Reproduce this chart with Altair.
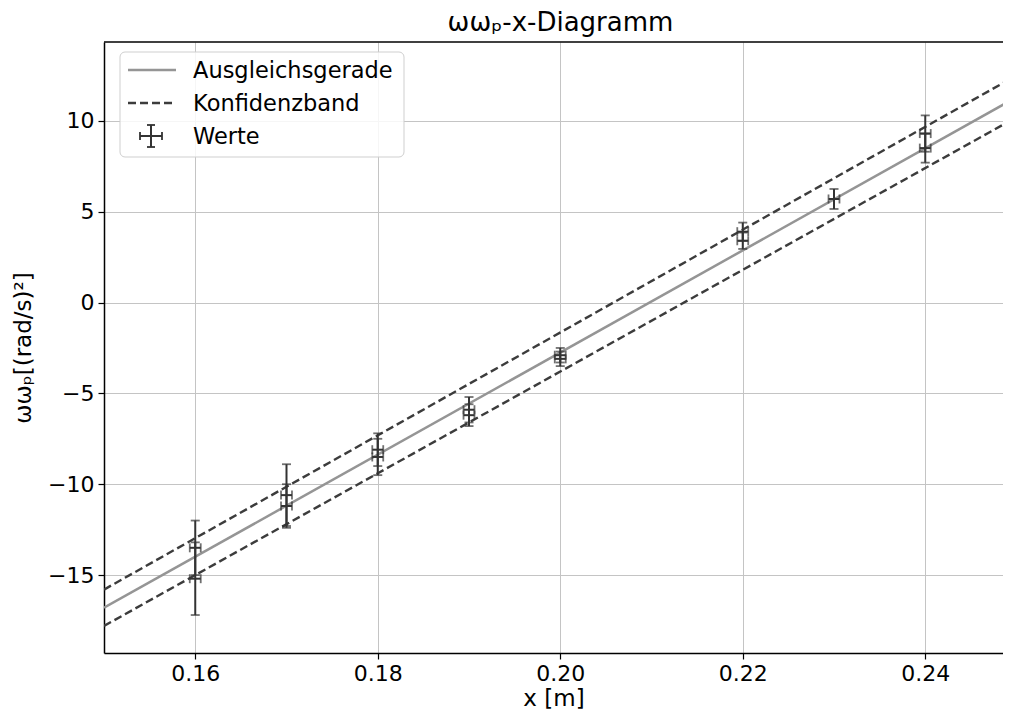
import altair as alt
import pandas as pd

# ---- data ----
pts_x = [0.16, 0.16, 0.17, 0.17, 0.18, 0.18, 0.19, 0.19, 0.20, 0.20, 0.22, 0.22, 0.23, 0.24, 0.24]
pts_y = [-13.5, -15.2, -10.6, -11.2, -8.1, -8.5, -5.9, -6.2, -2.9, -3.1, 3.9, 3.4, 5.7, 9.3, 8.5]
pts_yerr = [1.5, 2.0, 1.7, 1.2, 0.9, 1.0, 0.7, 0.6, 0.4, 0.4, 0.5, 0.45, 0.55, 1.0, 0.8]
pts_xerr = [0.0006, 0.0006, 0.0006, 0.0006, 0.0006, 0.0006, 0.0006, 0.0006,
            0.0006, 0.0006, 0.0006, 0.0006, 0.0006, 0.0006, 0.0006]

line_x = [0.15, 0.25]
fit_y = [-16.8, 11.3]
upper_y = [-15.8, 12.5]
lower_y = [-17.8, 10.2]

x_ticks = [0.16, 0.18, 0.20, 0.22, 0.24]
y_ticks = [-15, -10, -5, 0, 5, 10]

FONT = "DejaVu Sans"
W, H = 899, 611
X_DOM = [0.15, 0.24852]
Y_DOM = [-19.29, 14.34]
ERR = "#333333"

pts = pd.DataFrame({"x": pts_x, "y": pts_y, "yerr": pts_yerr, "xerr": pts_xerr})
pts["ylo"] = pts["y"] - pts["yerr"]
pts["yhi"] = pts["y"] + pts["yerr"]
pts["xlo"] = pts["x"] - pts["xerr"]
pts["xhi"] = pts["x"] + pts["xerr"]

lines = pd.DataFrame({"x": line_x, "fit": fit_y, "up": upper_y, "lo": lower_y})

xs = alt.Scale(domain=X_DOM, nice=False, zero=False)
ys = alt.Scale(domain=Y_DOM, nice=False, zero=False)

x_axis = alt.Axis(values=x_ticks, format=".2f", title="x [m]", grid=True)
y_axis = alt.Axis(values=y_ticks, format="d", title="ωωₚ[(rad/s)²]", grid=True)

base_lines = alt.Chart(lines)

fit = base_lines.mark_line(color="#959595", strokeWidth=2.5, clip=True).encode(
    x=alt.X("x:Q", scale=xs, axis=x_axis),
    y=alt.Y("fit:Q", scale=ys, axis=y_axis),
)
up = base_lines.mark_line(color="#3c3c3c", strokeWidth=2.4, strokeDash=[8, 4], clip=True).encode(
    x=alt.X("x:Q", scale=xs), y=alt.Y("up:Q", scale=ys)
)
lo = base_lines.mark_line(color="#3c3c3c", strokeWidth=2.4, strokeDash=[8, 4], clip=True).encode(
    x=alt.X("x:Q", scale=xs), y=alt.Y("lo:Q", scale=ys)
)

bp = alt.Chart(pts)
ybar = bp.mark_rule(color=ERR, strokeWidth=2).encode(
    x=alt.X("x:Q", scale=xs), y=alt.Y("ylo:Q", scale=ys), y2="yhi:Q"
)
xbar = bp.mark_rule(color=ERR, strokeWidth=2).encode(
    x=alt.X("xlo:Q", scale=xs), x2="xhi:Q", y=alt.Y("y:Q", scale=ys)
)
ycap_lo = bp.mark_tick(color=ERR, orient="horizontal", size=9, thickness=1.8).encode(
    x=alt.X("x:Q", scale=xs), y=alt.Y("ylo:Q", scale=ys)
)
ycap_hi = bp.mark_tick(color=ERR, orient="horizontal", size=9, thickness=1.8).encode(
    x=alt.X("x:Q", scale=xs), y=alt.Y("yhi:Q", scale=ys)
)
xcap_lo = bp.mark_tick(color=ERR, orient="vertical", size=9, thickness=1.8).encode(
    x=alt.X("xlo:Q", scale=xs), y=alt.Y("y:Q", scale=ys)
)
xcap_hi = bp.mark_tick(color=ERR, orient="vertical", size=9, thickness=1.8).encode(
    x=alt.X("xhi:Q", scale=xs), y=alt.Y("y:Q", scale=ys)
)

# ---- decorations: top spine and legend ----
dummy = alt.Chart(pd.DataFrame({"d": [0]}))
top_spine = dummy.mark_rule(color="black", strokeWidth=1.5).encode(
    x=alt.value(0), x2=alt.value(W), y=alt.value(0)
)

leg_box = dummy.mark_rect(fill="white", fillOpacity=0.85, stroke="#cfcfcf",
                          strokeWidth=1, cornerRadius=5).encode(
    x=alt.value(16), x2=alt.value(300), y=alt.value(10), y2=alt.value(115)
)
leg_fit = dummy.mark_rule(color="#959595", strokeWidth=2.5).encode(
    x=alt.value(24), x2=alt.value(72), y=alt.value(28)
)
leg_band = dummy.mark_rule(color="#3c3c3c", strokeWidth=2.4, strokeDash=[8, 4]).encode(
    x=alt.value(24), x2=alt.value(72), y=alt.value(61)
)
leg_h = dummy.mark_rule(color=ERR, strokeWidth=2).encode(
    x=alt.value(36), x2=alt.value(58), y=alt.value(94)
)
leg_v = dummy.mark_rule(color=ERR, strokeWidth=2).encode(
    x=alt.value(47), y=alt.value(83), y2=alt.value(105)
)
leg_c1 = dummy.mark_rule(color=ERR, strokeWidth=1.8).encode(
    x=alt.value(36), y=alt.value(90), y2=alt.value(98)
)
leg_c2 = dummy.mark_rule(color=ERR, strokeWidth=1.8).encode(
    x=alt.value(58), y=alt.value(90), y2=alt.value(98)
)
leg_c3 = dummy.mark_rule(color=ERR, strokeWidth=1.8).encode(
    x=alt.value(43), x2=alt.value(51), y=alt.value(83)
)
leg_c4 = dummy.mark_rule(color=ERR, strokeWidth=1.8).encode(
    x=alt.value(43), x2=alt.value(51), y=alt.value(105)
)


def leg_text(label, ypx):
    return dummy.mark_text(align="left", baseline="middle", font=FONT, fontSize=22.5,
                           color="black").encode(
        x=alt.value(89), y=alt.value(ypx), text=alt.value(label)
    )


legend_layers = [leg_box, leg_fit, leg_band, leg_h, leg_v, leg_c1, leg_c2, leg_c3, leg_c4,
                 leg_text("Ausgleichsgerade", 29), leg_text("Konfidenzband", 62),
                 leg_text("Werte", 95)]

chart = alt.layer(
    fit, up, lo, ybar, xbar, ycap_lo, ycap_hi, xcap_lo, xcap_hi, top_spine, *legend_layers
).properties(
    width=W,
    height=H,
    title=alt.TitleParams("ωωₚ-x-Diagramm", font=FONT, fontSize=26, fontWeight="normal",
                          color="black", offset=5, dx=7),
    autosize=alt.AutoSizeParams(type="none"),
    padding={"left": 96, "top": 34, "right": 0, "bottom": 61},
).configure_view(
    stroke=None
).configure_axis(
    labelFont=FONT, titleFont=FONT, labelFontSize=22, titleFontSize=23,
    labelColor="black", titleColor="black", titleFontWeight="normal",
    domainColor="black", domainWidth=1.5, tickColor="black", tickSize=6, tickWidth=1.2,
    labelPadding=4, gridColor="#c4c4c4", gridWidth=1,
).configure_axisY(
    titlePadding=12
).configure_axisX(
    titlePadding=3
)

chart.save("out.html", embed_options={"renderer": "svg", "actions": False})
